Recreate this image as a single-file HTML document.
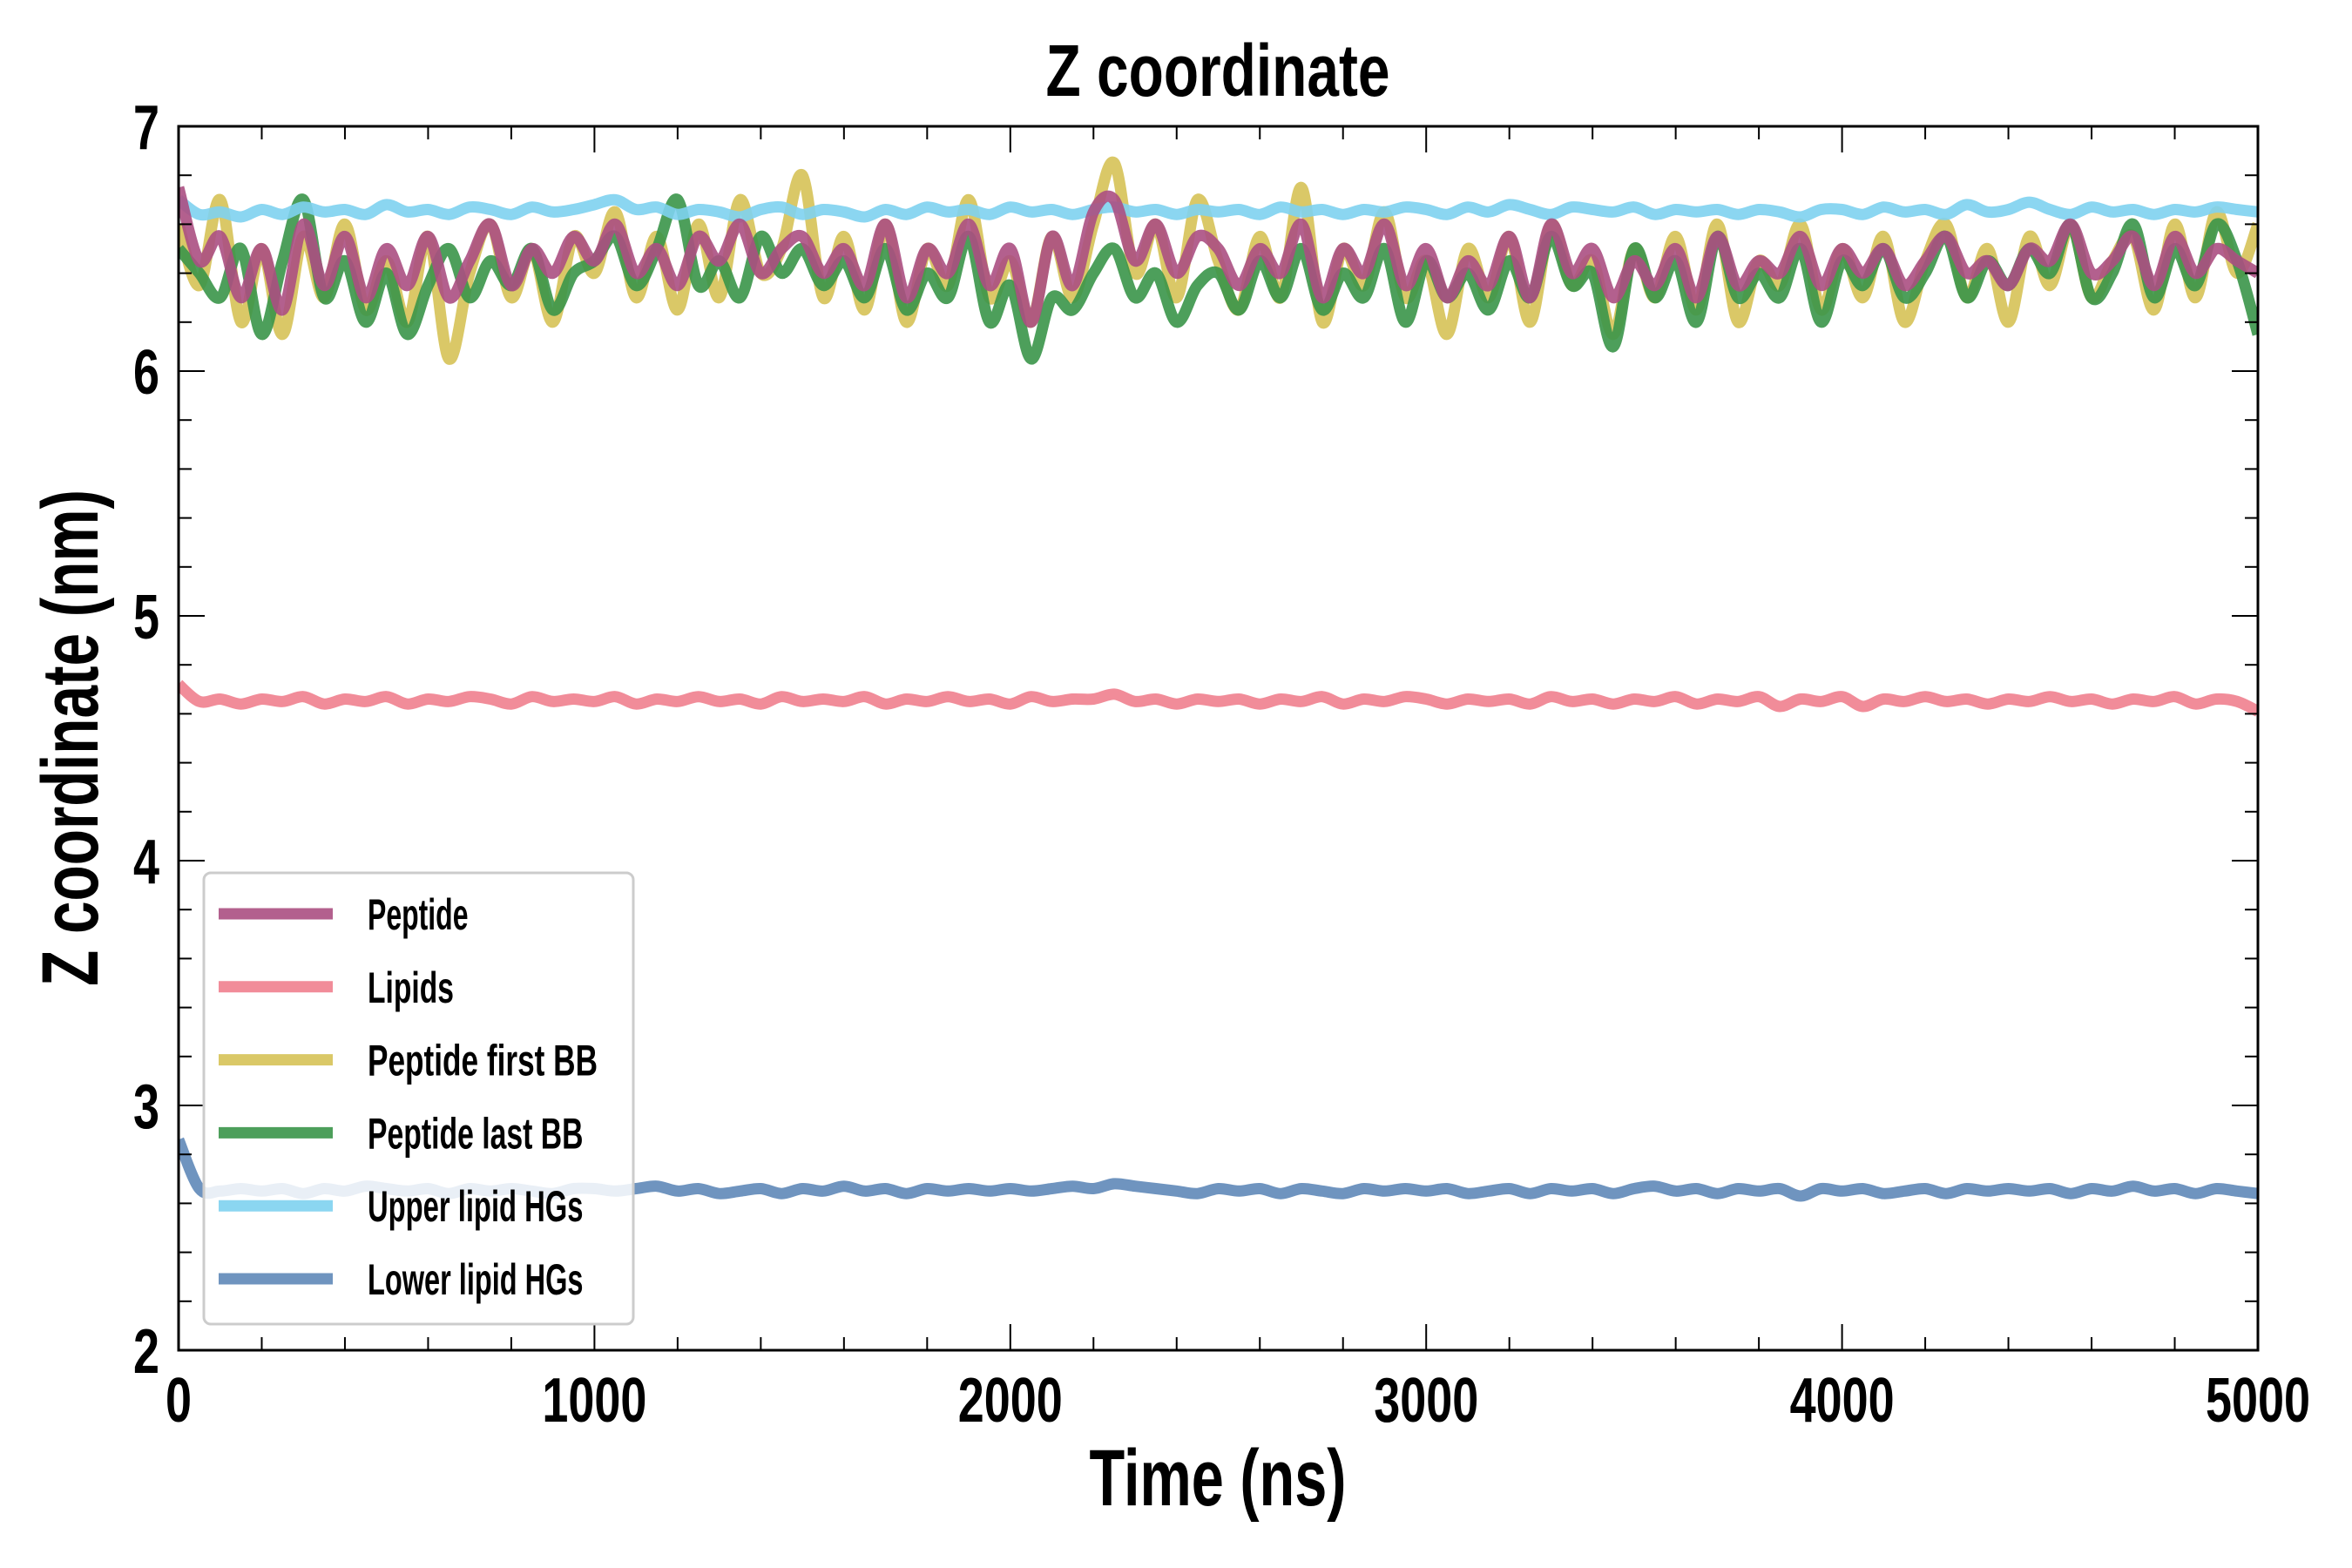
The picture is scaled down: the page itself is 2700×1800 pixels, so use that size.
<!DOCTYPE html>
<html><head><meta charset="utf-8"><style>
html,body{margin:0;padding:0;background:#fff}
svg{display:block}
text{font-family:"Liberation Sans",sans-serif;font-weight:bold;fill:#000}
</style></head><body>
<svg id="chart" width="2700" height="1800" viewBox="0 0 2700 1800" xmlns="http://www.w3.org/2000/svg">
<rect width="2700" height="1800" fill="#fff"/>
<g id="series"></g>
<g id="axes"></g>
<text x="1398" y="110" font-size="84" text-anchor="middle" textLength="395" lengthAdjust="spacingAndGlyphs">Z coordinate</text>
<text x="1398" y="1728" font-size="92" text-anchor="middle" textLength="295" lengthAdjust="spacingAndGlyphs">Time (ns)</text>
<text transform="translate(112,847) rotate(-90)" font-size="92" text-anchor="middle" textLength="570" lengthAdjust="spacingAndGlyphs">Z coordinate (nm)</text>
<g id="legend"></g>
</svg>
<script>
const xTicks=[0,1000,2000,3000,4000,5000];
const yTicks=[2,3,4,5,6,7];
const seriesNames=["Peptide","Lipids","Peptide first BB","Peptide last BB","Upper lipid HGs","Lower lipid HGs"];
const seriesColors=["#ab4f82","#f07f8e","#d6c257","#3a9549","#7ed2f0","#5f88b8"];
const peptide=[6.75,6.45,6.55,6.3,6.5,6.25,6.6,6.35,6.55,6.3,6.5,6.35,6.55,6.3,6.45,6.6,6.35,6.5,6.4,6.55,6.45,6.6,6.4,6.5,6.35,6.55,6.45,6.6,6.4,6.5,6.55,6.4,6.5,6.35,6.6,6.3,6.5,6.4,6.6,6.35,6.5,6.2,6.55,6.35,6.65,6.7,6.45,6.6,6.4,6.55,6.5,6.35,6.5,6.4,6.6,6.3,6.5,6.4,6.6,6.35,6.5,6.3,6.45,6.35,6.55,6.3,6.6,6.4,6.5,6.3,6.45,6.35,6.5,6.3,6.55,6.35,6.45,6.4,6.55,6.35,6.5,6.4,6.5,6.35,6.45,6.55,6.4,6.45,6.35,6.5,6.45,6.6,6.4,6.45,6.55,6.35,6.55,6.4,6.5,6.45,6.4];
const lipids=[4.72,4.65,4.66,4.64,4.66,4.65,4.67,4.64,4.66,4.65,4.67,4.64,4.66,4.65,4.67,4.66,4.64,4.67,4.65,4.66,4.65,4.67,4.64,4.66,4.65,4.67,4.65,4.66,4.64,4.67,4.65,4.66,4.65,4.67,4.64,4.66,4.65,4.67,4.65,4.66,4.64,4.67,4.65,4.66,4.66,4.68,4.65,4.66,4.64,4.66,4.65,4.66,4.64,4.66,4.65,4.67,4.64,4.66,4.65,4.67,4.66,4.64,4.66,4.65,4.66,4.64,4.67,4.65,4.66,4.64,4.66,4.65,4.67,4.64,4.66,4.65,4.67,4.63,4.66,4.65,4.67,4.63,4.66,4.65,4.67,4.65,4.66,4.64,4.66,4.65,4.67,4.65,4.66,4.64,4.66,4.65,4.67,4.64,4.66,4.65,4.61];
const firstBB=[6.6,6.35,6.7,6.2,6.5,6.15,6.55,6.3,6.6,6.25,6.45,6.2,6.55,6.05,6.4,6.6,6.3,6.5,6.2,6.55,6.4,6.65,6.3,6.55,6.25,6.6,6.3,6.7,6.4,6.5,6.8,6.3,6.55,6.25,6.6,6.2,6.5,6.35,6.7,6.3,6.45,6.2,6.55,6.3,6.6,6.85,6.4,6.6,6.3,6.7,6.45,6.25,6.55,6.3,6.75,6.2,6.5,6.35,6.65,6.3,6.45,6.15,6.5,6.3,6.55,6.2,6.6,6.35,6.45,6.15,6.5,6.3,6.55,6.25,6.6,6.2,6.45,6.35,6.6,6.25,6.5,6.3,6.55,6.2,6.45,6.6,6.3,6.5,6.2,6.55,6.35,6.6,6.3,6.45,6.55,6.25,6.6,6.3,6.65,6.4,6.6];
const lastBB=[6.5,6.4,6.3,6.5,6.15,6.45,6.7,6.3,6.45,6.2,6.4,6.15,6.35,6.5,6.3,6.45,6.35,6.5,6.25,6.4,6.45,6.55,6.35,6.5,6.7,6.35,6.45,6.3,6.55,6.4,6.5,6.35,6.45,6.3,6.5,6.25,6.4,6.3,6.55,6.2,6.35,6.05,6.3,6.25,6.4,6.5,6.3,6.4,6.2,6.35,6.4,6.25,6.45,6.3,6.5,6.25,6.4,6.3,6.5,6.2,6.45,6.3,6.4,6.25,6.45,6.3,6.55,6.35,6.4,6.1,6.5,6.3,6.45,6.2,6.55,6.3,6.4,6.3,6.5,6.2,6.45,6.35,6.5,6.3,6.4,6.55,6.3,6.45,6.35,6.5,6.4,6.6,6.3,6.4,6.6,6.3,6.5,6.35,6.6,6.45,6.15];
const upperHG=[6.7,6.64,6.65,6.63,6.66,6.64,6.67,6.65,6.66,6.64,6.68,6.65,6.66,6.64,6.67,6.66,6.64,6.67,6.65,6.66,6.68,6.7,6.66,6.67,6.64,6.66,6.65,6.63,6.66,6.67,6.64,6.66,6.65,6.63,6.66,6.64,6.67,6.65,6.66,6.64,6.67,6.65,6.66,6.64,6.66,6.67,6.65,6.66,6.64,6.66,6.65,6.66,6.64,6.67,6.65,6.66,6.64,6.66,6.65,6.67,6.66,6.64,6.67,6.65,6.68,6.66,6.64,6.67,6.66,6.65,6.67,6.64,6.66,6.65,6.66,6.64,6.66,6.65,6.63,6.66,6.66,6.64,6.67,6.65,6.66,6.64,6.68,6.65,6.66,6.69,6.66,6.64,6.67,6.65,6.66,6.64,6.66,6.65,6.67,6.66,6.65];
const lowerHG=[2.86,2.66,2.65,2.66,2.65,2.66,2.64,2.66,2.65,2.67,2.66,2.65,2.66,2.64,2.66,2.65,2.66,2.65,2.64,2.66,2.66,2.65,2.66,2.67,2.65,2.66,2.64,2.65,2.66,2.64,2.66,2.65,2.67,2.65,2.66,2.64,2.66,2.65,2.66,2.65,2.66,2.65,2.66,2.67,2.66,2.68,2.67,2.66,2.65,2.64,2.66,2.65,2.66,2.64,2.66,2.65,2.64,2.66,2.65,2.66,2.65,2.66,2.64,2.65,2.66,2.64,2.66,2.65,2.66,2.64,2.66,2.67,2.65,2.66,2.64,2.66,2.65,2.66,2.63,2.66,2.65,2.66,2.64,2.65,2.66,2.64,2.66,2.65,2.66,2.65,2.66,2.64,2.66,2.65,2.67,2.65,2.66,2.64,2.66,2.65,2.64];

const NS="http://www.w3.org/2000/svg";
const L=205,R=2592,T=145,B=1550;
const xS=v=>L+(v-0)/(5000-0)*(R-L);
const yS=v=>B-(v-2)/(7-2)*(B-T);
function mk(tag,attrs,parent){const e=document.createElementNS(NS,tag);for(const k in attrs)e.setAttribute(k,attrs[k]);parent.appendChild(e);return e;}
const sg=document.getElementById('series');
const clip=mk('clipPath',{id:'pc'},sg);mk('rect',{x:L,y:T,width:R-L,height:B-T},clip);
function smoothPath(P){
  let d='M'+P[0][0].toFixed(1)+','+P[0][1].toFixed(1);
  for(let i=0;i<P.length-1;i++){
    const p0=P[Math.max(0,i-1)],p1=P[i],p2=P[i+1],p3=P[Math.min(P.length-1,i+2)];
    const c1=[p1[0]+(p2[0]-p0[0])/6,p1[1]+(p2[1]-p0[1])/6];
    const c2=[p2[0]-(p3[0]-p1[0])/6,p2[1]-(p3[1]-p1[1])/6];
    d+='C'+c1[0].toFixed(1)+','+c1[1].toFixed(1)+' '+c2[0].toFixed(1)+','+c2[1].toFixed(1)+' '+p2[0].toFixed(1)+','+p2[1].toFixed(1);
  }
  return d;
}
function drawSeries(arr,color,name){
  const n=arr.length;
  const P=arr.map((v,i)=>[xS(i*5000/(n-1)),yS(v)]);
  const p=mk('path',{d:smoothPath(P),fill:'none',stroke:color,'stroke-width':13,'stroke-linejoin':'round','stroke-opacity':0.9,'clip-path':'url(#pc)'},sg);
  
  
}
drawSeries(firstBB,seriesColors[2],'line-peptide-first-bb');
drawSeries(lastBB,seriesColors[3],'line-peptide-last-bb');
drawSeries(upperHG,seriesColors[4],'line-upper-lipid-hgs');
drawSeries(lipids,seriesColors[1],'line-lipids');
drawSeries(lowerHG,seriesColors[5],'line-lower-lipid-hgs');
drawSeries(peptide,seriesColors[0],'line-peptide');

const ax=document.getElementById('axes');
const frame=mk('rect',{x:L,y:T,width:R-L,height:B-T,fill:'none',stroke:'#000','stroke-width':3},ax);


for(let v=0;v<=5000;v+=200){
  const x=xS(v),len=(v%1000===0)?30:15;
  mk('line',{x1:x,y1:B,x2:x,y2:B-len,stroke:'#000','stroke-width':2},ax);
  mk('line',{x1:x,y1:T,x2:x,y2:T+len,stroke:'#000','stroke-width':2},ax);
}
for(let k=0;k<=25;k++){
  const v=2+k*0.2,y=yS(v),len=(k%5===0)?30:15;
  mk('line',{x1:L,y1:y,x2:L+len,y2:y,stroke:'#000','stroke-width':2},ax);
  mk('line',{x1:R,y1:y,x2:R-len,y2:y,stroke:'#000','stroke-width':2},ax);
}
xTicks.forEach(v=>{
  const t=mk('text',{x:xS(v),y:B+82,'font-size':72,'text-anchor':'middle'},ax);
  t.textContent=String(v);
  const w=String(v).length*30;t.setAttribute('textLength',w);t.setAttribute('lengthAdjust','spacingAndGlyphs');
  
  
});
yTicks.forEach(v=>{
  const t=mk('text',{x:L-22,y:yS(v)+26,'font-size':72,'text-anchor':'end',textLength:30,lengthAdjust:'spacingAndGlyphs'},ax);
  t.textContent=String(v);
  
  
});
const lg=document.getElementById('legend');
const box=mk('rect',{x:234,y:1002,width:493,height:518,rx:8,fill:'#fff','fill-opacity':0.85,stroke:'#ccc','stroke-width':3},lg);


seriesNames.forEach((nm,i)=>{
  const y=1049+i*83.8;
  const g=mk('g',{},lg);
  
  
  mk('line',{x1:251,y1:y,x2:382,y2:y,stroke:seriesColors[i],'stroke-width':13,'stroke-opacity':0.9},g);
  const t=mk('text',{x:422,y:y+18,'font-size':50,textLength:nm.length*16.5,lengthAdjust:'spacingAndGlyphs'},g);
  t.textContent=nm;
});
</script>
</body></html>
